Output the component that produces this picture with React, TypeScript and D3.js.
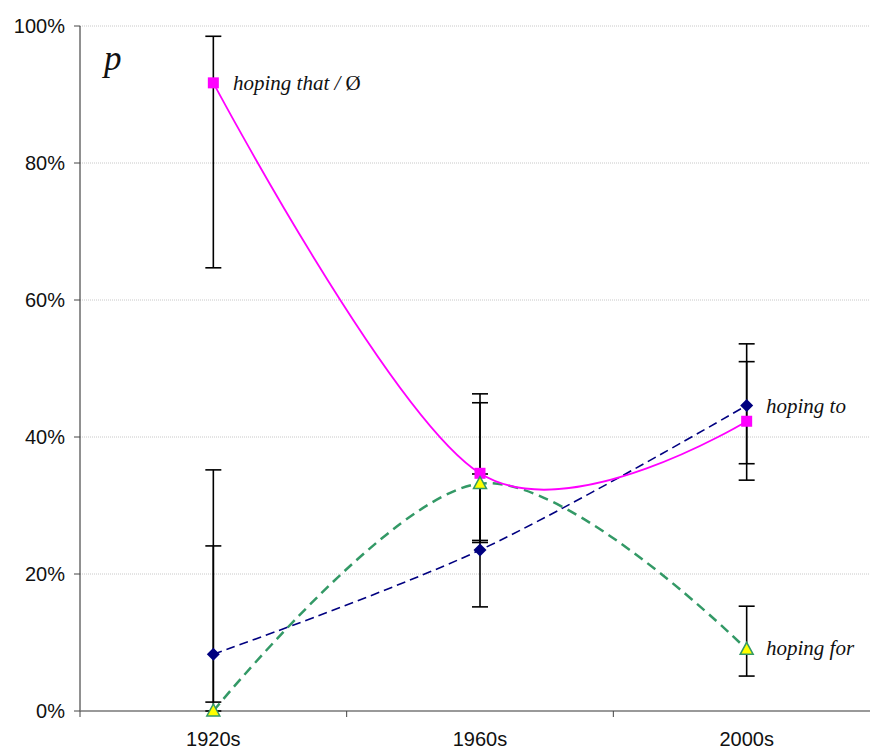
import React from "react";
import * as d3 from "d3";

const categories = ["1920s", "1960s", "2000s"];
const yTicks = [0, 20, 40, 60, 80, 100];

const thatValues = [91.7, 34.7, 42.3];
const thatLow = [64.7, 24.9, 33.7];
const thatHigh = [98.5, 46.3, 51.0];

const toValues = [8.3, 23.5, 44.6];
const toLow = [1.3, 15.2, 36.1];
const toHigh = [35.2, 34.6, 53.6];

const forValues = [0, 33.2, 9.0];
const forLow = [0, 24.6, 5.1];
const forHigh = [24.1, 45.0, 15.3];

const W = 870;
const H = 751;
const left = 80;
const top = 26;
const bottom = 711;

export default function App() {
  const x = d3.scaleBand<string>().domain(categories).range([left, 880]).padding(0);
  const cx = (c: string) => (x(c) as number) + x.bandwidth() / 2;
  const y = d3.scaleLinear().domain([0, 100]).range([bottom, top]);

  const line = d3
    .line<number>()
    .x((_, i) => cx(categories[i]))
    .y((d) => y(d))
    .curve(d3.curveCardinal.tension(0));

  const series = [
    { vals: thatValues, lo: thatLow, hi: thatHigh },
    { vals: toValues, lo: toLow, hi: toHigh },
    { vals: forValues, lo: forLow, hi: forHigh },
  ];

  const capW = 8;
  const sans = "Liberation Sans, Arial, sans-serif";
  const serif = "Liberation Serif, Times New Roman, serif";

  return (
    <svg width={W} height={H} style={{ display: "block", position: "absolute", left: 0, top: 0 }}>
      <rect x={0} y={0} width={W} height={H} fill="#fff" />
      {/* gridlines */}
      {yTicks.filter((t) => t > 0).map((t) => (
        <line key={t} x1={left} x2={W} y1={y(t)} y2={y(t)} stroke="#c8c8c8" strokeWidth={1} strokeDasharray="1 1" />
      ))}
      {/* axes */}
      <line x1={left} x2={left} y1={top} y2={bottom} stroke="#222" strokeWidth={1} />
      <line x1={left} x2={W} y1={bottom} y2={bottom} stroke="#777" strokeWidth={1.3} />
      {yTicks.map((t) => (
        <g key={t}>
          <line x1={left - 6} x2={left} y1={y(t)} y2={y(t)} stroke="#444" strokeWidth={1} />
          <text x={left - 15} y={y(t) + 7} textAnchor="end" fontFamily={sans} fontSize={20} fill="#111">
            {t}%
          </text>
        </g>
      ))}
      {[0, 1, 2].map((i) => (
        <line key={i} x1={left + i * x.bandwidth()} x2={left + i * x.bandwidth()} y1={bottom} y2={bottom + 6} stroke="#444" strokeWidth={1} />
      ))}
      {categories.map((c) => (
        <text key={c} x={cx(c)} y={746} textAnchor="middle" fontFamily={sans} fontSize={20} fill="#111">
          {c}
        </text>
      ))}
      {/* error bars */}
      {series.map((s, si) =>
        categories.map((c, i) => (
          <g key={`${si}-${i}`} stroke="#000" strokeWidth={1.6}>
            <line x1={cx(c)} x2={cx(c)} y1={y(s.hi[i])} y2={y(s.lo[i])} />
            <line x1={cx(c) - capW} x2={cx(c) + capW} y1={y(s.hi[i])} y2={y(s.hi[i])} />
            <line x1={cx(c) - capW} x2={cx(c) + capW} y1={y(s.lo[i])} y2={y(s.lo[i])} />
          </g>
        ))
      )}
      {/* lines */}
      <path d={line(forValues) || ""} fill="none" stroke="#339966" strokeWidth={2.5} strokeDasharray="10 6" />
      <path d={line(toValues) || ""} fill="none" stroke="#000080" strokeWidth={1.6} strokeDasharray="9 5" />
      <path d={line(thatValues) || ""} fill="none" stroke="#ff00ff" strokeWidth={1.8} />
      {/* markers */}
      {categories.map((c, i) => (
        <g key={c}>
          <rect x={cx(c) - 5.5} y={y(thatValues[i]) - 5.5} width={11} height={11} fill="#ff00ff" />
          <path
            d={`M${cx(c)},${y(toValues[i]) - 6.5} L${cx(c) + 6.5},${y(toValues[i])} L${cx(c)},${y(toValues[i]) + 6.5} L${cx(c) - 6.5},${y(toValues[i])} Z`}
            fill="#000080"
          />
          <path
            d={`M${cx(c)},${y(forValues[i]) - 7} L${cx(c) + 6.5},${y(forValues[i]) + 5} L${cx(c) - 6.5},${y(forValues[i]) + 5} Z`}
            fill="#ffff00"
            stroke="#339966"
            strokeWidth={1.5}
          />
        </g>
      ))}
      {/* labels */}
      <text x={104} y={70} fontFamily={serif} fontStyle="italic" fontSize={35} fill="#111">p</text>
      <text x={233} y={90} fontFamily={serif} fontStyle="italic" fontSize={21} fill="#111">
        hoping that / <tspan fontStyle="normal">Ø</tspan>
      </text>
      <text x={766} y={413} fontFamily={serif} fontStyle="italic" fontSize={21} fill="#111">hoping to</text>
      <text x={766} y={655} fontFamily={serif} fontStyle="italic" fontSize={21} fill="#111">hoping for</text>
    </svg>
  );
}
